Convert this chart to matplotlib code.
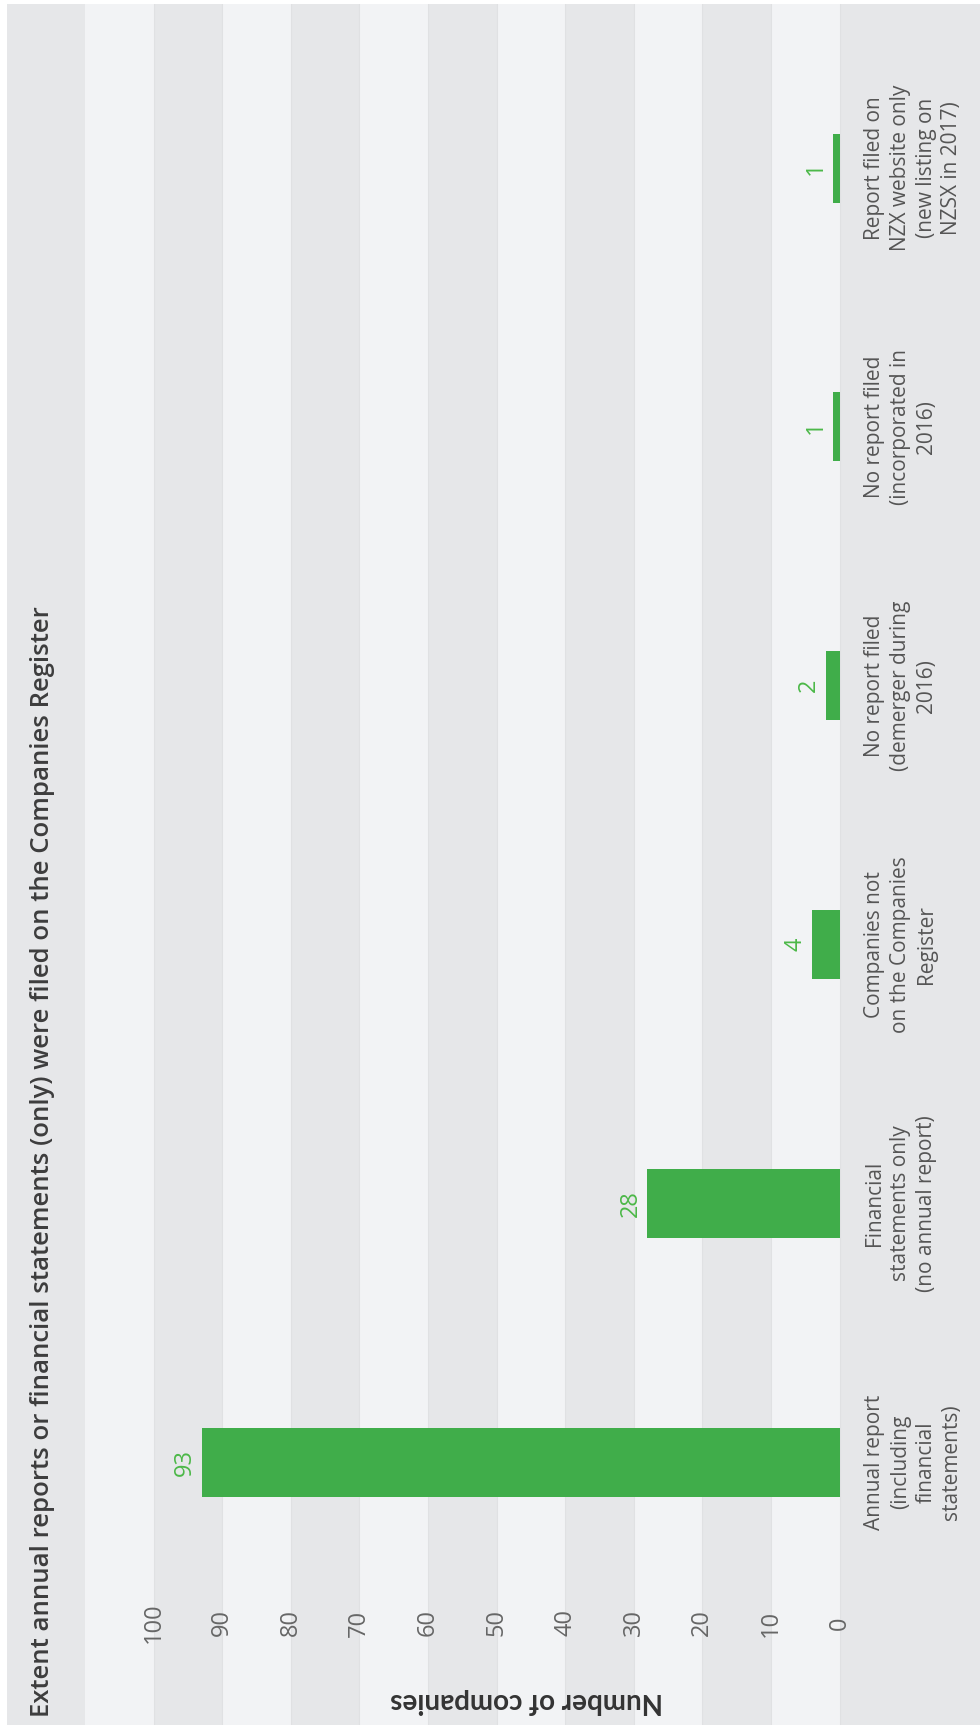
import matplotlib
matplotlib.use("Agg")
import matplotlib.pyplot as plt

# data
categories = [
    "Annual report\n(including\nfinancial\nstatements)",
    "Financial\nstatements only\n(no annual report)",
    "Companies not\non the Companies\nRegister",
    "No report filed\n(demerger during\n2016)",
    "No report filed\n(incorporated in\n2016)",
    "Report filed on\nNZX website only\n(new listing on\nNZSX in 2017)",
]
counts = [93, 28, 4, 2, 1, 1]
ticks = [0, 10, 20, 30, 40, 50, 60, 70, 80, 90, 100]

title = "Extent annual reports or financial statements (only) were filed on the Companies Register"
axis_title = "Number of companies"

# colours
bar_col = "#40ad4a"
lab_col = "#4cb848"
dark_band = "#e6e7e9"
light_band = "#f2f3f5"

W, H = 980, 1725
fig = plt.figure(figsize=(W / 100, H / 100), dpi=100, facecolor="white")

# the whole chart is turned a quarter turn: values run right->left, categories bottom->top
ax = fig.add_axes([7 / W, 0, (W - 7) / W, (H - 4) / H])
ax.set_facecolor(dark_band)
k = 6.86      # px per unit
x0 = 839.5    # px position of value 0
ax.set_xlim((x0 - 7) / k, (x0 - W) / k)
c0, step = 1462, 258.8
ax.set_ylim((c0 - H) / step, (c0 - 4) / step)
for s in ax.spines.values():
    s.set_visible(False)
ax.set_xticks([])
ax.set_yticks([])

# alternating bands
for t in ticks[::2] + [100]:
    if t % 20 == 0:
        ax.axvspan(t, t + 10, color=light_band, lw=0, zorder=0)
for t in ticks:
    ax.axvline(t, color="#e0e1e3", lw=0.8, zorder=0.5)

pos = list(range(len(categories)))
ax.barh(pos, counts, height=69 / step, color=bar_col, zorder=2)

font = ["Open Sans", "DejaVu Sans"]

for p, v in zip(pos, counts):
    ax.text(v + 5 / k, p, str(v), rotation=90, ha="right", va="center",
            color=lab_col, fontsize=17, family=font, zorder=3)

for p, lab in zip(pos, categories):
    ax.text((x0 - 864) / k, p, lab, rotation=90, ha="left", va="center",
            multialignment="center", linespacing=1.3,
            color="#555555", fontsize=15, family=font)

for t in ticks:
    ax.text(t, (c0 - 1623) / step, str(t), rotation=90, ha="center", va="center",
            color="#666666", fontsize=17, family=font)

fig.text(527 / W, 1 - 1701 / H, axis_title, rotation=180, ha="center", va="center",
         color="#333333", fontsize=20, fontweight="bold", family=["Lato", "DejaVu Sans"])

fig.text(43 / W, 1 - 1717 / H, title, rotation=90, ha="center", va="bottom",
         color="#3d3d3d", fontsize=18.5, fontweight="semibold", family=font)

fig.savefig("out.png", dpi=100, facecolor="white")
